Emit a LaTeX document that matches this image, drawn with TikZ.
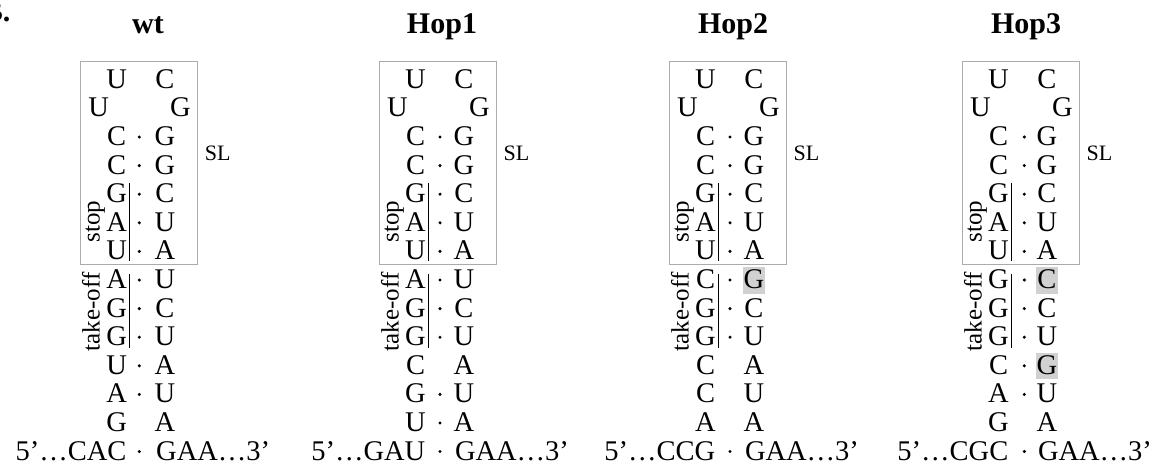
\documentclass[tikz,border=0pt]{standalone}
\usepackage{fontspec}
\setmainfont{Liberation Serif}
\tikzset{
  nt/.style={inner sep=0pt, anchor=base, font=\fontsize{28.5}{30}\selectfont},
  ttl/.style={inner sep=0pt, anchor=base, font=\fontsize{30}{32}\selectfont\bfseries},
  sidelbl/.style={inner sep=0pt, anchor=base, rotate=90, font=\fontsize{25}{27}\selectfont},
  sllbl/.style={inner sep=0pt, anchor=base, font=\fontsize{22}{24}\selectfont},
  slbox/.style={draw=black!33, line width=1pt},
  bar/.style={line width=1.1pt},
  hl/.style={fill=black!18},
}
% paired row: prefix, row, L, D, left, right
\newcommand\prow[6]{%
  \node[nt] (#1l#2) at ({#3},{88.3+28.6*#2}) {#5};
  \node[nt] (#1r#2) at ({#3+48.3},{88.3+28.6*#2}) {#6};
  \fill (#4,{88.3+28.6*#2-8.5}) circle (1.7pt);}
% unpaired row: prefix, row, L, left, right
\newcommand\urow[5]{%
  \node[nt] (#1l#2) at ({#3},{88.3+28.6*#2}) {#4};
  \node[nt] (#1r#2) at ({#3+48.3},{88.3+28.6*#2}) {#5};}
% highlight behind right letter: L, row
\newcommand\hlrow[2]{%
  \fill[hl] ({#1+48.3-11},{88.3+28.6*#2+5}) rectangle ({#1+48.3+11},{88.3+28.6*#2-21.5});}
% common upper part: prefix, L, D, titlex, title
\newcommand\toppanel[5]{%
  \node[ttl] (#1title) at (#4,33.5) {#5};
  \draw[slbox] ({#2-36.5},61) rectangle ({#2+81},264);
  \node[sllbl] (#1sl) at ({#2+101},160) {SL};
  \urow{#1}{0}{#2}{U}{C}
  \node[nt] (#1l1) at ({#2-18},116.9) {U};
  \node[nt] (#1r1) at ({#2+48.3+15.5},116.9) {G};
  \prow{#1}{2}{#2}{#3}{C}{G}
  \prow{#1}{3}{#2}{#3}{C}{G}
  \prow{#1}{4}{#2}{#3}{G}{C}
  \prow{#1}{5}{#2}{#3}{A}{U}
  \prow{#1}{6}{#2}{#3}{U}{A}
  \draw[bar] ({#2+13},182.7) -- ({#2+13},260.5);
  \draw[bar] ({#2+13},274) -- ({#2+13},348);
  \node[sidelbl] (#1stop) at ({#2-17},221.5) {stop};
  \node[sidelbl] (#1take) at ({#2-17},312) {take-off};
}
% bottom row: prefix, L, D, left triplet
\newcommand\brow[4]{%
  \node[nt, anchor=base east] (#1bl) at ({#2+10},460) {5’…#4};
  \node[nt, anchor=base west] (#1br) at ({#2+39.3},460) {GAA…3’};
  \fill (#3,451.5) circle (1.7pt);}
\begin{document}
\begin{tikzpicture}[x=1pt,y=-1pt]
\useasboundingbox (0,0) rectangle (1166,464);
\node[ttl, anchor=base east] (lab) at (10.5,21) {B.};
% wt
\toppanel{wt}{116.7}{139.3}{148}{wt}
\prow{wt}{7}{116.7}{139.3}{A}{U}
\prow{wt}{8}{116.7}{139.3}{G}{C}
\prow{wt}{9}{116.7}{139.3}{G}{U}
\prow{wt}{10}{116.7}{139.3}{U}{A}
\prow{wt}{11}{116.7}{139.3}{A}{U}
\urow{wt}{12}{116.7}{G}{A}
\brow{wt}{116.7}{139.3}{CAC}
% Hop1
\toppanel{hA}{415.5}{440}{442}{Hop1}
\prow{hA}{7}{415.5}{440}{A}{U}
\prow{hA}{8}{415.5}{440}{G}{C}
\prow{hA}{9}{415.5}{440}{G}{U}
\urow{hA}{10}{415.5}{C}{A}
\prow{hA}{11}{415.5}{440}{G}{U}
\prow{hA}{12}{415.5}{440}{U}{A}
\brow{hA}{415.5}{440}{GAU}
% Hop2
\hlrow{705.5}{7}
\toppanel{hB}{705.5}{730}{733}{Hop2}
\prow{hB}{7}{705.5}{730}{C}{G}
\prow{hB}{8}{705.5}{730}{G}{C}
\prow{hB}{9}{705.5}{730}{G}{U}
\urow{hB}{10}{705.5}{C}{A}
\urow{hB}{11}{705.5}{C}{U}
\urow{hB}{12}{705.5}{A}{A}
\brow{hB}{705.5}{730}{CCG}
% Hop3
\hlrow{998.5}{7}
\hlrow{998.5}{10}
\toppanel{hC}{998.5}{1024.3}{1026}{Hop3}
\prow{hC}{7}{998.5}{1024.3}{G}{C}
\prow{hC}{8}{998.5}{1024.3}{G}{C}
\prow{hC}{9}{998.5}{1024.3}{G}{U}
\prow{hC}{10}{998.5}{1024.3}{C}{G}
\prow{hC}{11}{998.5}{1024.3}{A}{U}
\urow{hC}{12}{998.5}{G}{A}
\brow{hC}{998.5}{1024.3}{CGC}
\end{tikzpicture}
\end{document}
